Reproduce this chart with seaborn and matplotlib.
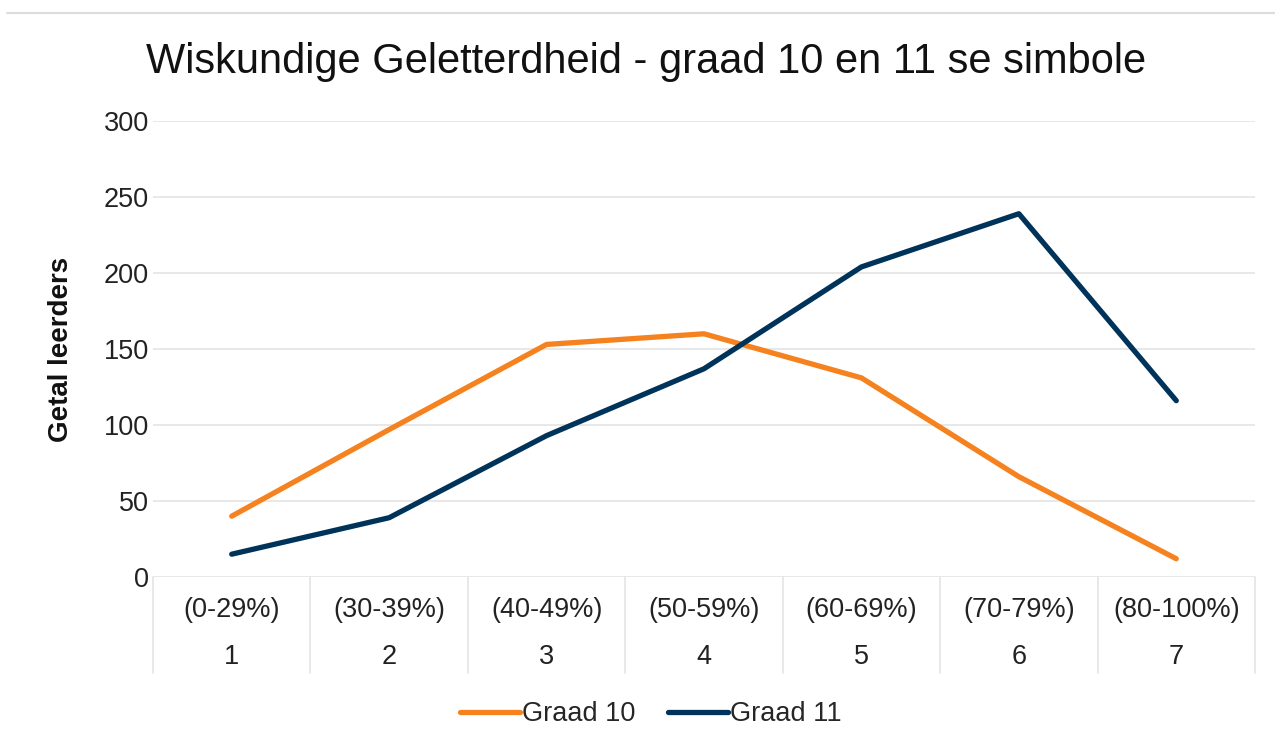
import pandas as pd
import numpy as np
import matplotlib
matplotlib.use("Agg")
import matplotlib.pyplot as plt
import seaborn as sns
from matplotlib.lines import Line2D

# Data
simbole = ["1", "2", "3", "4", "5", "6", "7"]
reekse = ["(0-29%)", "(30-39%)", "(40-49%)", "(50-59%)", "(60-69%)", "(70-79%)", "(80-100%)"]
graad_10 = [40, 97, 153, 160, 131, 66, 12]
graad_11 = [15, 39, 93, 137, 204, 239, 116]
y_ticks = [0, 50, 100, 150, 200, 250, 300]

df = pd.DataFrame({
    "pos": list(range(len(simbole))) * 2,
    "leerders": graad_10 + graad_11,
    "graad": ["Graad 10"] * len(simbole) + ["Graad 11"] * len(simbole),
})

sns.set_style("white")
plt.rcParams["font.family"] = ["Liberation Sans", "DejaVu Sans"]

W, H = 1275, 749
fig = plt.figure(figsize=(W / 100, H / 100), dpi=100)
ax = fig.add_axes([153 / W, 1 - 577 / H, (1255 - 153) / W, (577 - 121) / H])

colors = {"Graad 10": "#F5821F", "Graad 11": "#003359"}
sns.lineplot(data=df, x="pos", y="leerders", hue="graad", palette=colors,
             linewidth=3.8, ax=ax, legend=False, solid_capstyle="round", zorder=3)

ax.set_xlim(-0.5, len(simbole) - 0.5)
ax.set_ylim(0, 300)
ax.set_yticks(y_ticks)
ax.tick_params(axis="y", labelsize=19.5, length=0, pad=3, colors="#222222")
ax.set_xticks([])
ax.grid(axis="y", color="#e4e4e4", linewidth=1.2)
ax.set_axisbelow(True)
for s in ax.spines.values():
    s.set_visible(False)

ax.set_xlabel("")
ax.set_ylabel("Getal leerders", fontsize=20, fontweight="bold", color="#111111")
ax.yaxis.set_label_coords((74 - 153) / (1255 - 153), 0.5)

# category table under the plot
trans = ax.get_xaxis_transform()
for b in np.arange(-0.5, len(simbole), 1.0):
    ax.plot([b, b], [0, -96 / 456], transform=trans, color="#e4e4e4",
            lw=1.2, clip_on=False)
for i, (r, s) in enumerate(zip(reekse, simbole)):
    ax.annotate(r, xy=(i, 0), xycoords=trans, xytext=(0, -33 * 0.72),
                textcoords="offset points", ha="center", va="center",
                fontsize=19.5, color="#222222")
    ax.annotate(s, xy=(i, 0), xycoords=trans, xytext=(0, -80 * 0.72),
                textcoords="offset points", ha="center", va="center",
                fontsize=19.5, color="#222222")

fig.text(0.507, 1 - 62 / H, "Wiskundige Geletterdheid - graad 10 en 11 se simbole",
         ha="center", va="center", fontsize=30, color="#111111")

handles = [Line2D([], [], color=colors[g], lw=3.8) for g in ["Graad 10", "Graad 11"]]
fig.legend(handles, ["Graad 10", "Graad 11"], loc="center",
           bbox_to_anchor=(651 / W, 1 - 714 / H), ncol=2, frameon=False,
           fontsize=19.5, handlelength=2.2, handletextpad=0.1, columnspacing=1.2)

fig.add_artist(Line2D([7 / W, 1], [1 - 13 / H] * 2, color="#dcdcdc", lw=1.5))

plt.savefig("out.png", dpi=100)
